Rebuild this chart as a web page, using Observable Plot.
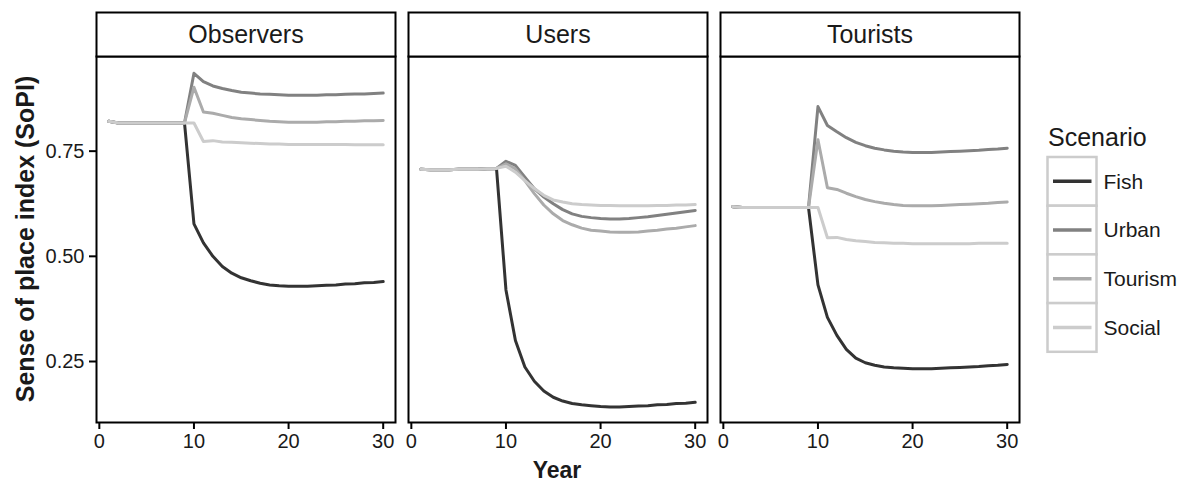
<!DOCTYPE html>
<html>
<head>
<meta charset="utf-8">
<script src="https://cdn.jsdelivr.net/npm/d3@7"></script>
<script src="https://cdn.jsdelivr.net/npm/@observablehq/plot@0.6"></script>
<style>
  html, body { margin: 0; padding: 0; background: white; }
  #wrap { position: relative; width: 1183px; height: 482px; font-family: "Liberation Sans", Arial, sans-serif; color: #1a1a1a; }
  #ytitle { position: absolute; left: 25px; top: 239px; transform: translate(-50%, -50%) rotate(-90deg); font-weight: bold; font-size: 25px; white-space: nowrap; }
  #xtitle { position: absolute; left: 557px; top: 470px; transform: translate(-50%, -50%); font-weight: bold; font-size: 23px; white-space: nowrap; }
  #legend { position: absolute; left: 1046px; top: 121px; }
</style>
</head>
<body>
<div id="wrap">
  <div id="chart"></div>
  <div id="ytitle">Sense of place index (SoPI)</div>
  <div id="xtitle">Year</div>
  <div id="legend"></div>
</div>
<script>
// ---- data ----
const panels = ["Observers", "Users", "Tourists"];
const scenarios = ["Fish", "Urban", "Tourism", "Social"];
const colors = ["#333333", "#818181", "#ababab", "#cccccc"];
const years = [1,2,3,4,5,6,7,8,9,10,11,12,13,14,15,16,17,18,19,20,21,22,23,24,25,26,27,28,29,30];
const xTicks = [0, 10, 20, 30];
const yTicks = [0.25, 0.50, 0.75];

const observersFish    = [0.821,0.817,0.817,0.817,0.817,0.817,0.817,0.817,0.817,0.577,0.532,0.500,0.476,0.460,0.449,0.442,0.436,0.432,0.430,0.429,0.429,0.429,0.430,0.431,0.432,0.434,0.435,0.437,0.438,0.440];
const observersUrban   = [0.821,0.817,0.817,0.817,0.817,0.817,0.817,0.817,0.817,0.935,0.915,0.905,0.899,0.894,0.890,0.888,0.886,0.885,0.884,0.883,0.883,0.883,0.883,0.884,0.884,0.885,0.886,0.886,0.887,0.888];
const observersTourism = [0.821,0.817,0.817,0.817,0.817,0.817,0.817,0.817,0.817,0.902,0.843,0.840,0.835,0.830,0.827,0.825,0.823,0.821,0.820,0.819,0.819,0.819,0.819,0.820,0.820,0.821,0.821,0.822,0.822,0.823];
const observersSocial  = [0.821,0.817,0.817,0.817,0.817,0.817,0.817,0.817,0.817,0.817,0.773,0.775,0.772,0.771,0.770,0.769,0.768,0.767,0.767,0.766,0.766,0.766,0.766,0.766,0.766,0.766,0.765,0.765,0.765,0.765];

const usersFish    = [0.707,0.706,0.706,0.706,0.707,0.707,0.707,0.708,0.709,0.420,0.300,0.237,0.203,0.180,0.165,0.156,0.150,0.147,0.145,0.143,0.142,0.142,0.143,0.144,0.145,0.147,0.148,0.150,0.151,0.153];
const usersUrban   = [0.707,0.706,0.706,0.706,0.707,0.707,0.707,0.708,0.709,0.726,0.716,0.688,0.661,0.641,0.625,0.611,0.601,0.595,0.592,0.590,0.589,0.589,0.590,0.592,0.594,0.597,0.600,0.603,0.606,0.609];
const usersTourism = [0.707,0.706,0.706,0.706,0.707,0.707,0.707,0.708,0.709,0.720,0.708,0.680,0.649,0.622,0.601,0.585,0.575,0.567,0.562,0.560,0.558,0.557,0.557,0.558,0.560,0.562,0.565,0.567,0.570,0.573];
const usersSocial  = [0.707,0.706,0.706,0.706,0.707,0.707,0.707,0.708,0.709,0.714,0.700,0.680,0.661,0.645,0.634,0.629,0.625,0.623,0.622,0.621,0.621,0.620,0.620,0.620,0.620,0.621,0.621,0.622,0.622,0.623];

const touristsFish    = [0.618,0.616,0.616,0.616,0.616,0.616,0.616,0.616,0.616,0.432,0.355,0.312,0.279,0.258,0.247,0.241,0.237,0.235,0.234,0.233,0.233,0.233,0.234,0.235,0.236,0.237,0.238,0.240,0.241,0.243];
const touristsUrban   = [0.618,0.616,0.616,0.616,0.616,0.616,0.616,0.616,0.616,0.856,0.811,0.796,0.782,0.771,0.763,0.757,0.753,0.750,0.748,0.747,0.747,0.747,0.748,0.749,0.750,0.751,0.752,0.754,0.755,0.757];
const touristsTourism = [0.618,0.616,0.616,0.616,0.616,0.616,0.616,0.616,0.616,0.777,0.663,0.659,0.650,0.642,0.635,0.630,0.626,0.623,0.621,0.620,0.620,0.620,0.621,0.622,0.623,0.624,0.625,0.626,0.628,0.629];
const touristsSocial  = [0.618,0.616,0.616,0.616,0.616,0.616,0.616,0.616,0.616,0.616,0.544,0.545,0.540,0.537,0.535,0.533,0.532,0.531,0.531,0.530,0.530,0.530,0.530,0.530,0.530,0.530,0.531,0.531,0.531,0.531];

// ---- table built from the arrays ----
const series = {
  Observers: {Fish: observersFish, Urban: observersUrban, Tourism: observersTourism, Social: observersSocial},
  Users:     {Fish: usersFish, Urban: usersUrban, Tourism: usersTourism, Social: usersSocial},
  Tourists:  {Fish: touristsFish, Urban: touristsUrban, Tourism: touristsTourism, Social: touristsSocial}
};
const rows = [];
for (const p of panels) for (const s of scenarios)
  series[p][s].forEach((v, i) => rows.push({panel: p, scenario: s, year: years[i], value: v}));

// ---- layout ----
const W = 1183, H = 482, mT = 56, mB = 60, mL = 95, mR = 162, strip = 44;
const font = "'Liberation Sans', Arial, sans-serif";

const chart = Plot.plot({
  width: W, height: H,
  marginLeft: mL, marginRight: mR, marginTop: mT, marginBottom: mB,
  style: {fontFamily: font, fontSize: "20px", color: "#1a1a1a", background: "white"},
  fx: {domain: panels, paddingInner: 0.0415, paddingOuter: 0, axis: null, label: null},
  x: {domain: [-0.3, 31.3], label: null},
  y: {domain: [0.105, 0.975], label: null},
  color: {domain: scenarios, range: colors},
  marks: [
    Plot.lineY(rows, {fx: "panel", x: "year", y: "value", z: "scenario", stroke: "scenario", strokeWidth: 3, strokeLinejoin: "round"}),
    Plot.frame({stroke: "black", strokeWidth: 2}),
    Plot.frame({stroke: "black", strokeWidth: 2, fill: "white", insetTop: -strip, insetBottom: H - mT - mB}),
    Plot.text(panels, {fx: d => d, text: d => d, frameAnchor: "top", dy: -strip / 2, fontSize: 25, lineAnchor: "middle", fill: "#1a1a1a"}),
    Plot.axisX({ticks: xTicks, tickSize: 7, tickPadding: 4, strokeWidth: 2, stroke: "black", label: null, fontSize: 20}),
    Plot.axisY({ticks: yTicks, tickFormat: ".2f", tickSize: 7, tickPadding: 5, strokeWidth: 2, stroke: "black", label: null, fontSize: 20})
  ]
});
document.getElementById("chart").appendChild(chart);

// ---- legend built from the colour scale ----
const cs = chart.scale("color");
const keyH = 48.7, keyW = 49;
const lg = d3.select("#legend").append("svg")
  .attr("width", 137).attr("height", 240)
  .style("font-family", font);
lg.append("text").attr("x", 2).attr("y", 25).attr("font-size", 25).attr("fill", "#1a1a1a").text("Scenario");
const items = lg.selectAll("g.key").data(cs.domain).join("g")
  .attr("transform", (d, i) => `translate(1.5, ${36 + i * keyH})`);
items.append("rect").attr("width", keyW).attr("height", keyH)
  .attr("fill", "white").attr("stroke", "#cccccc").attr("stroke-width", 2.5);
items.append("line").attr("x1", 5.5).attr("x2", 44).attr("y1", keyH / 2).attr("y2", keyH / 2)
  .attr("stroke", (d, i) => cs.range[i]).attr("stroke-width", 3.5);
items.append("text").attr("x", 56).attr("y", keyH / 2).attr("dy", "0.35em")
  .attr("font-size", 21).attr("fill", "#1a1a1a").text(d => d);
</script>
</body>
</html>
